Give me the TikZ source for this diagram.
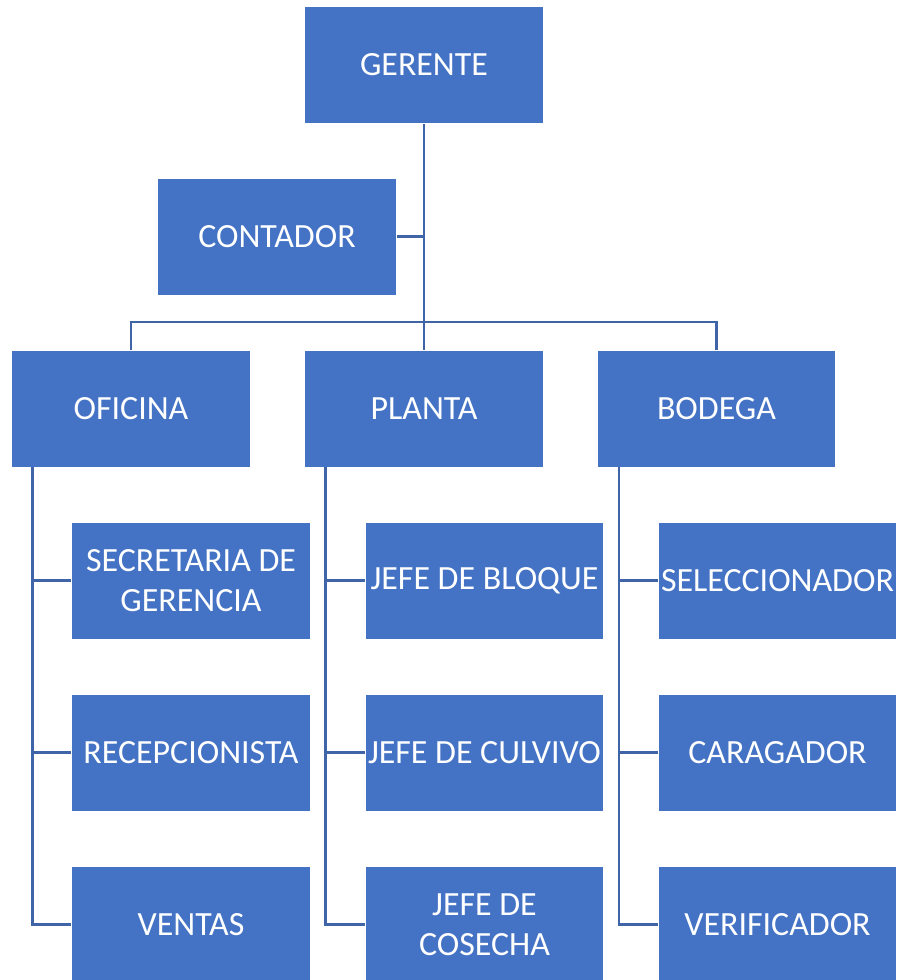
\documentclass[tikz,border=0pt]{standalone}
\usepackage{fontspec}
\setmainfont{Carlito}
\definecolor{boxblue}{HTML}{4472C4}
\definecolor{lineblue}{HTML}{3F64A8}
\begin{document}
\begin{tikzpicture}[x=0.02cm, y=-0.02cm,
  cargo/.style={draw=white, line width=0.4pt, fill=boxblue, text=white, inner sep=0pt,
    minimum width=4.77cm, minimum height=2.34cm, align=center,
    font=\fontsize{19.3}{22.5}\selectfont},
  enlace/.style={draw=lineblue, line width=1.6pt}]
\useasboundingbox (0,0) rectangle (900,980);
\node[cargo] (gerente) at (424,65) {GERENTE};
\node[cargo] (contador) at (277,236.5) {CONTADOR};
\node[cargo] (oficina) at (131,408.5) {OFICINA};
\node[cargo] (planta) at (424,408.5) {PLANTA};
\node[cargo] (bodega) at (716.5,408.5) {BODEGA};
\node[cargo] (secretaria) at (191,580.5) {SECRETARIA DE\\GERENCIA};
\node[cargo] (recepcion) at (191,752.5) {RECEPCIONISTA};
\node[cargo] (ventas) at (191,924.5) {VENTAS};
\node[cargo] (bloque) at (484.5,580.5) {JEFE DE BLOQUE};
\node[cargo] (cultivo) at (484.5,752.5) {JEFE DE CULVIVO};
\node[cargo] (cosecha) at (484.5,924.5) {JEFE DE\\COSECHA};
\node[cargo] (seleccion) at (777.5,580.5) {SELECCIONADOR};
\node[cargo] (cargador) at (777.5,752.5) {CARAGADOR};
\node[cargo] (verifica) at (777.5,924.5) {VERIFICADOR};
\coordinate (bus) at (424,322);
% gerencia
\draw[enlace] (gerente.south) -- (bus);
\draw[enlace] (contador.east) -- (contador.east -| gerente.south);
\draw[enlace] (oficina.north) |- (bodega.north |- bus) -- (bodega.north);
\draw[enlace] (bus) -- (planta.north);
% areas
\draw[enlace] ([xshift=0.42cm]oficina.south west) |- (ventas.west);
\draw[enlace] (secretaria.west) -- +(-38,0);
\draw[enlace] (recepcion.west) -- +(-38,0);
\draw[enlace] ([xshift=0.42cm]planta.south west) |- (cosecha.west);
\draw[enlace] (bloque.west) -- +(-38,0);
\draw[enlace] (cultivo.west) -- +(-38,0);
\draw[enlace] ([xshift=0.44cm]bodega.south west) |- (verifica.west);
\draw[enlace] (seleccion.west) -- +(-38,0);
\draw[enlace] (cargador.west) -- +(-38,0);
\end{tikzpicture}
\end{document}
